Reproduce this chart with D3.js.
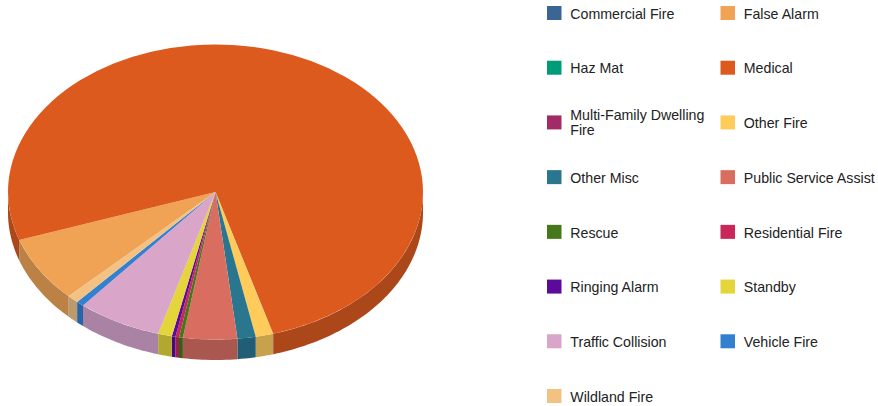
<!DOCTYPE html>
<html>
<head>
<meta charset="utf-8">
<script src="https://cdn.jsdelivr.net/npm/d3@7"></script>
<style>
  body { margin: 0; background: #fff; }
  svg { display: block; }
  text { font-family: "Liberation Sans", Arial, sans-serif; font-size: 14.2px; fill: #222; }
</style>
</head>
<body>
<svg width="878" height="406"></svg>
<script>
// incident types, in legend order (same order as the slices, clockwise)
var categories = ["Commercial Fire", "False Alarm", "Haz Mat", "Medical",
  "Multi-Family Dwelling Fire", "Other Fire", "Other Misc", "Public Service Assist",
  "Rescue", "Residential Fire", "Ringing Alarm", "Standby",
  "Traffic Collision", "Vehicle Fire", "Wildland Fire"];

// share of incidents in percent
var shares = [0.02, 7.2, 0.02, 75.8, 0.02, 1.37, 1.42, 4.2,
  0.3, 0.28, 0.28, 1.08, 6.57, 0.6, 0.88];

var colours = ["#3a6595", "#f0a354", "#009b77", "#dd5a1e", "#a22a66", "#ffcc5c", "#2a768e", "#d96e60",
  "#44781a", "#c9265a", "#5b0a99", "#e3d53a", "#d9a5c8", "#3280cf", "#f3c283"];

var svg = d3.select("svg");

var cx = 215.5, cy = 192;
var rx = 207.5, ry = 147.5;
var depth = 20.5;
var startDeg = 225; // d3 angle (0 = up) where the first slice begins

var colour = d3.scaleOrdinal().domain(categories).range(colours);

var pie = d3.pie()
  .sort(null)
  .value(function(d, i) { return shares[i]; })
  .startAngle(startDeg * Math.PI / 180)
  .endAngle((startDeg + 360) * Math.PI / 180);

var arcs = pie(categories);

var arc = d3.arc().innerRadius(0).outerRadius(rx);

// Point on the rim of the squashed pie for a d3 angle
function rim(a, dy) {
  return [cx + rx * Math.sin(a), cy - ry * Math.cos(a) + dy];
}

// The wall below a slice, only for the part of it in the front half of the pie
function wallPath(d) {
  var parts = [];
  // front half is d3 angle 90..270 deg, also check one turn up
  [0, 2 * Math.PI].forEach(function(turn) {
    var a0 = Math.max(d.startAngle, Math.PI / 2 + turn);
    var a1 = Math.min(d.endAngle, 3 * Math.PI / 2 + turn);
    if (a1 <= a0) return;
    var n = Math.max(2, Math.ceil((a1 - a0) / 0.02));
    var angles = d3.range(n + 1).map(function(i) { return a0 + (a1 - a0) * i / n; });
    var top = angles.map(function(a) { return rim(a, 0); });
    var bottom = angles.slice().reverse().map(function(a) { return rim(a, depth); });
    parts.push(d3.line()(top.concat(bottom)) + "Z");
  });
  return parts.join("");
}

// Walls first, then the top face over them
var chart = svg.append("g");

chart.selectAll("path.wall")
  .data(arcs)
  .enter()
  .append("path")
  .attr("class", "wall")
  .attr("d", wallPath)
  .attr("fill", function(d) {
    var c = d3.rgb(colour(d.data));
    return d3.rgb(c.r * 0.78, c.g * 0.79, c.b * 0.82);
  });

chart.append("g")
  .attr("transform", "translate(" + cx + "," + cy + ") scale(1," + (ry / rx) + ")")
  .selectAll("path.top")
  .data(arcs)
  .enter()
  .append("path")
  .attr("class", "top")
  .attr("d", arc)
  .attr("fill", function(d) { return colour(d.data); });

// Legend, two columns, filled row by row
var rowY = d3.scalePoint().domain(d3.range(8)).range([13, 396]);
var colX = d3.scalePoint().domain([0, 1]).range([547, 720.5]);

var legend = svg.selectAll("g.legend")
  .data(categories)
  .enter()
  .append("g")
  .attr("class", "legend")
  .attr("transform", function(d, i) {
    return "translate(" + colX(i % 2) + "," + rowY(Math.floor(i / 2)) + ")";
  });

legend.append("rect")
  .attr("x", 0)
  .attr("y", -7)
  .attr("width", 14.5)
  .attr("height", 14)
  .attr("fill", function(d) { return colour(d); });

legend.each(function(d) {
  var words = d.split(" ");
  // only the long label wraps
  var lines = d.length > 22 ? [words.slice(0, -1).join(" "), words[words.length - 1]] : [d];
  var t = d3.select(this).append("text").attr("x", 23.3);
  lines.forEach(function(line, i) {
    t.append("tspan")
      .attr("x", 23.3)
      .attr("y", lines.length > 1 ? (i === 0 ? -2.5 : 12.5) : 5.7)
      .text(line);
  });
});
</script>
</body>
</html>
